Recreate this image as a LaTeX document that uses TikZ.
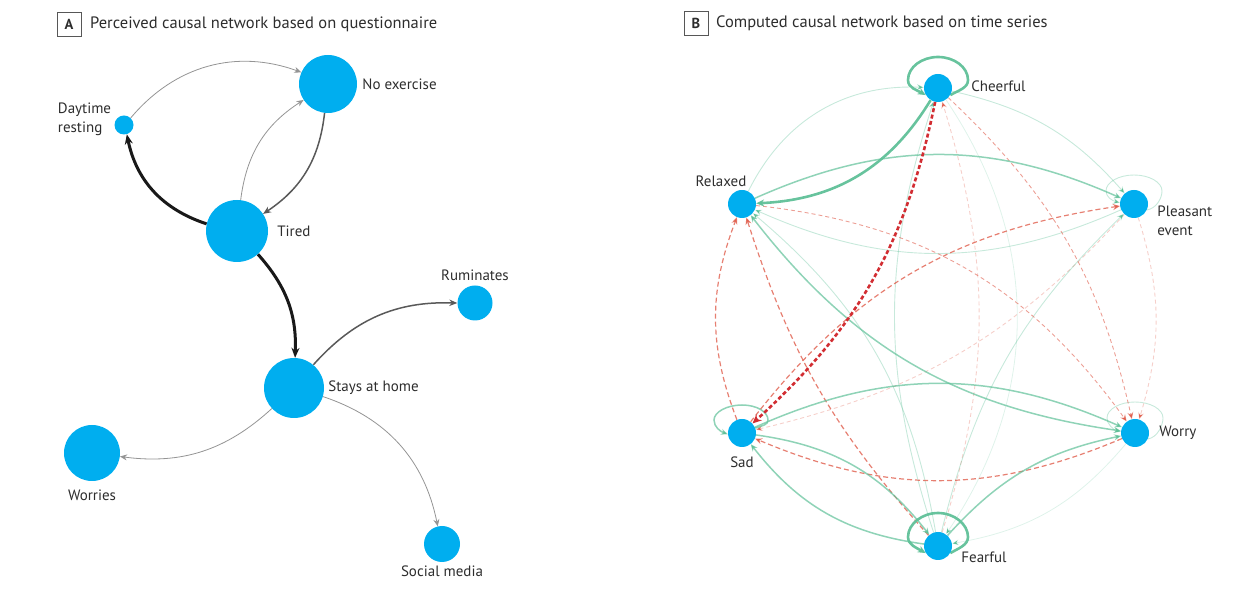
\documentclass[tikz,border=0pt]{standalone}
\usepackage{fontspec}
\setmainfont{PT Sans}
\usetikzlibrary{positioning,arrows.meta,backgrounds}

\definecolor{nodeblue}{RGB}{0,174,239}
\definecolor{txtgray}{RGB}{45,45,45}
\definecolor{grn}{RGB}{95,192,152}
\definecolor{rdk}{RGB}{210,45,50}
\definecolor{rsa}{RGB}{224,95,78}

\tikzset{
  nd/.style={circle, fill=nodeblue, inner sep=0pt},
  lbl/.style={text=txtgray, inner sep=1pt, font=\fontsize{15}{19}\selectfont},
  ttl/.style={text=txtgray, anchor=west, inner sep=0pt, font=\fontsize{16.5}{19}\selectfont},
  tbox/.style={draw=txtgray!80, line width=0.8pt, minimum size=24pt, inner sep=0pt, text=txtgray, font=\fontsize{14.5}{16}\selectfont\bfseries},
  % panel A connectors
  ak/.style={draw=black!90, line width=3pt, -{Stealth[length=10pt,width=8pt]}},
  ad/.style={draw=black!65, line width=1.5pt, -{Stealth[length=8pt,width=6.5pt]}},
  al/.style={draw=black!42, line width=0.8pt, -{Stealth[length=7pt,width=6pt]}},
  % panel B connectors
  gthick/.style={draw=grn, draw opacity=.95, line width=2.6pt, -{Stealth[length=8pt,width=7pt]}},
  gmid/.style={draw=grn, draw opacity=.7, line width=1.5pt, -{Stealth[length=7pt,width=6pt]}},
  glight/.style={draw=grn, draw opacity=.35, line width=0.9pt, -{Stealth[length=7pt,width=6pt]}},
  gfaint/.style={draw=grn, draw opacity=.2, line width=0.8pt, -{Stealth[length=7pt,width=6pt]}},
  rthick/.style={draw=rdk, line width=2.6pt, dash pattern=on 4pt off 2.5pt, -{Stealth[length=9pt,width=8pt]}},
  rmid/.style={draw=rsa, draw opacity=.8, line width=1.2pt, dash pattern=on 5pt off 3pt, -{Stealth[length=7pt,width=6pt]}},
  rlight/.style={draw=rsa, draw opacity=.6, line width=0.9pt, dash pattern=on 4pt off 3pt, -{Stealth[length=7pt,width=6pt]}},
  rfaint/.style={draw=rsa, draw opacity=.3, line width=0.9pt, dash pattern=on 4pt off 3pt, -{Stealth[length=7pt,width=6pt]}},
}

\begin{document}
\begin{tikzpicture}[x=1pt, y=1pt]

\useasboundingbox (0,0) rectangle (1252,599);

% headings
\node[tbox] (boxA) at (69,575) {A};
\node[ttl] (ttlA) at (90,575) {Perceived causal network based on questionnaire};
\node[tbox] (boxB) at (696,576) {B};
\node[ttl] (ttlB) at (716,576) {Computed causal network based on time series};

% panel A
\node[nd, minimum size=19pt] (DR) at (124,474) {};
\node[nd, minimum size=58pt] (NE) at (328,515) {};
\node[nd, minimum size=62pt] (TI) at (237,368) {};
\node[nd, minimum size=35pt] (RU) at (475,296) {};
\node[nd, minimum size=60pt] (SH) at (294,211) {};
\node[nd, minimum size=56pt] (WO) at (92,146) {};
\node[nd, minimum size=36pt] (SM) at (442,55) {};

\node[lbl, left=2pt of DR, yshift=6pt, align=left] {Daytime\\resting};
\node[lbl, right=4pt of NE] {No exercise};
\node[lbl, right=8pt of TI] {Tired};
\node[lbl, above=3pt of RU] {Ruminates};
\node[lbl, right=3pt of SH] {Stays at home};
\node[lbl, below=7pt of WO] {Worries};
\node[lbl, below=2pt of SM] {Social media};

\begin{scope}[on background layer]
\draw[al] (DR) to[bend left=35] (NE);
\draw[al] (TI) to[bend left=25] (NE);
\draw[ad] (NE) to[bend left=25] (TI);
\draw[ak] (TI) to[bend left=30] (DR);
\draw[ak] (TI) to[bend left=22] (SH);
\draw[ad] (SH) to[bend left=25] (RU);
\draw[al] (SH) to[bend left=25] (WO);
\draw[al] (SH) to[bend left=30] (SM);
\end{scope}

% panel B
\node[nd, minimum size=28pt] (CH) at (938,511) {};
\node[nd, minimum size=28pt] (PL) at (1134,395) {};
\node[nd, minimum size=28pt] (WR) at (1135,166) {};
\node[nd, minimum size=28pt] (FE) at (938,53) {};
\node[nd, minimum size=28pt] (SA) at (742,166) {};
\node[nd, minimum size=28pt] (RE) at (742,395) {};

\node[lbl, right=18pt of CH, yshift=2pt] {Cheerful};
\node[lbl, right=8pt of PL, yshift=-17pt, align=left] {Pleasant\\event};
\node[lbl, right=9pt of WR] {Worry};
\node[lbl, right=8pt of FE, yshift=-11pt] {Fearful};
\node[lbl, below=8pt of SA] {Sad};
\node[lbl, above=2pt of RE, xshift=-21pt] {Relaxed};

\begin{scope}[on background layer]
\draw[gfaint] (CH) to[bend left=34] (FE);
\draw[gfaint] (WR) to[bend left=20] (FE);
\draw[rfaint] (FE) to[bend right=17] (CH);
\draw[rfaint] (PL) to[bend left=17] (WR);
\draw[rfaint] (PL) to[bend left=17] (SA);
\draw[glight] (RE) to[bend left=33] (CH);
\draw[glight] (CH) to[bend left=18] (PL);
\draw[glight] (PL) to[bend left=24] (RE);
\draw[glight] (FE) to[bend right=20] (RE);
\draw[glight] (FE) to[bend left=18] (CH);
\draw[glight] (FE) to[bend left=16] (PL);
% self loops
\draw[glight] (PL.-25) .. controls +(10:10) and +(-90:7) .. ([shift={(28,13)}]PL.center)
  .. controls +(90:9) and +(0:15) .. ([shift={(0,29)}]PL.center)
  .. controls +(180:15) and +(90:9) .. ([shift={(-28,13)}]PL.center)
  .. controls +(-90:6) and +(165:8) .. (PL.175);
\draw[glight] (WR.-25) .. controls +(10:10) and +(-90:7) .. ([shift={(28,15)}]WR.center)
  .. controls +(90:9) and +(0:15) .. ([shift={(0,31)}]WR.center)
  .. controls +(180:15) and +(90:9) .. ([shift={(-28,15)}]WR.center)
  .. controls +(-90:6) and +(165:8) .. (WR.175);
\draw[gmid] (SA.20) .. controls +(20:8) and +(-90:5) .. ([shift={(26,13)}]SA.center)
  .. controls +(90:8) and +(0:15) .. ([shift={(0,28)}]SA.center)
  .. controls +(180:15) and +(90:8) .. ([shift={(-28,13)}]SA.center)
  .. controls +(-90:7) and +(160:8) .. (SA.185);
\draw[rlight] (RE) to[bend left=24] (WR);
\draw[rlight] (CH) to[bend left=17] (WR);
\draw[rmid] (SA) to[bend left=22] (PL);
\draw[rmid] (SA) to[bend left=21] (RE);
\draw[rmid] (FE) to[bend left=12] (RE);
\draw[rmid] (WR) to[bend left=23] (SA);
\draw[gmid] (RE) to[bend left=24] (PL);
\draw[gmid, {Stealth[length=7pt,width=6pt]}-{Stealth[length=7pt,width=6pt]}] (WR) to[bend left=22] (RE);
\draw[gmid] (SA) to[bend left=24] (WR);
\draw[gmid] (SA) to[bend left=22] (FE);
\draw[gmid] (FE) to[bend left=22] (SA);
\draw[gmid] (FE) to[bend left=18] (WR);
\draw[gthick] (CH) to[bend left=28] (RE);
\draw[gthick] (CH.-30) .. controls +(30:10) and +(-90:8) .. ([shift={(30,8)}]CH.center)
  .. controls +(90:13) and +(0:16) .. ([shift={(0,31)}]CH.center)
  .. controls +(180:16) and +(90:13) .. ([shift={(-30,8)}]CH.center)
  .. controls +(-90:8) and +(150:10) .. (CH.210);
\draw[gthick] (FE.-30) .. controls +(30:10) and +(-90:8) .. ([shift={(30,9)}]FE.center)
  .. controls +(90:13) and +(0:16) .. ([shift={(0,33)}]FE.center)
  .. controls +(180:16) and +(90:13) .. ([shift={(-30,9)}]FE.center)
  .. controls +(-90:8) and +(150:10) .. (FE.210);
\draw[rthick] (CH) to[bend left=18] (SA);
\end{scope}

\end{tikzpicture}
\end{document}
